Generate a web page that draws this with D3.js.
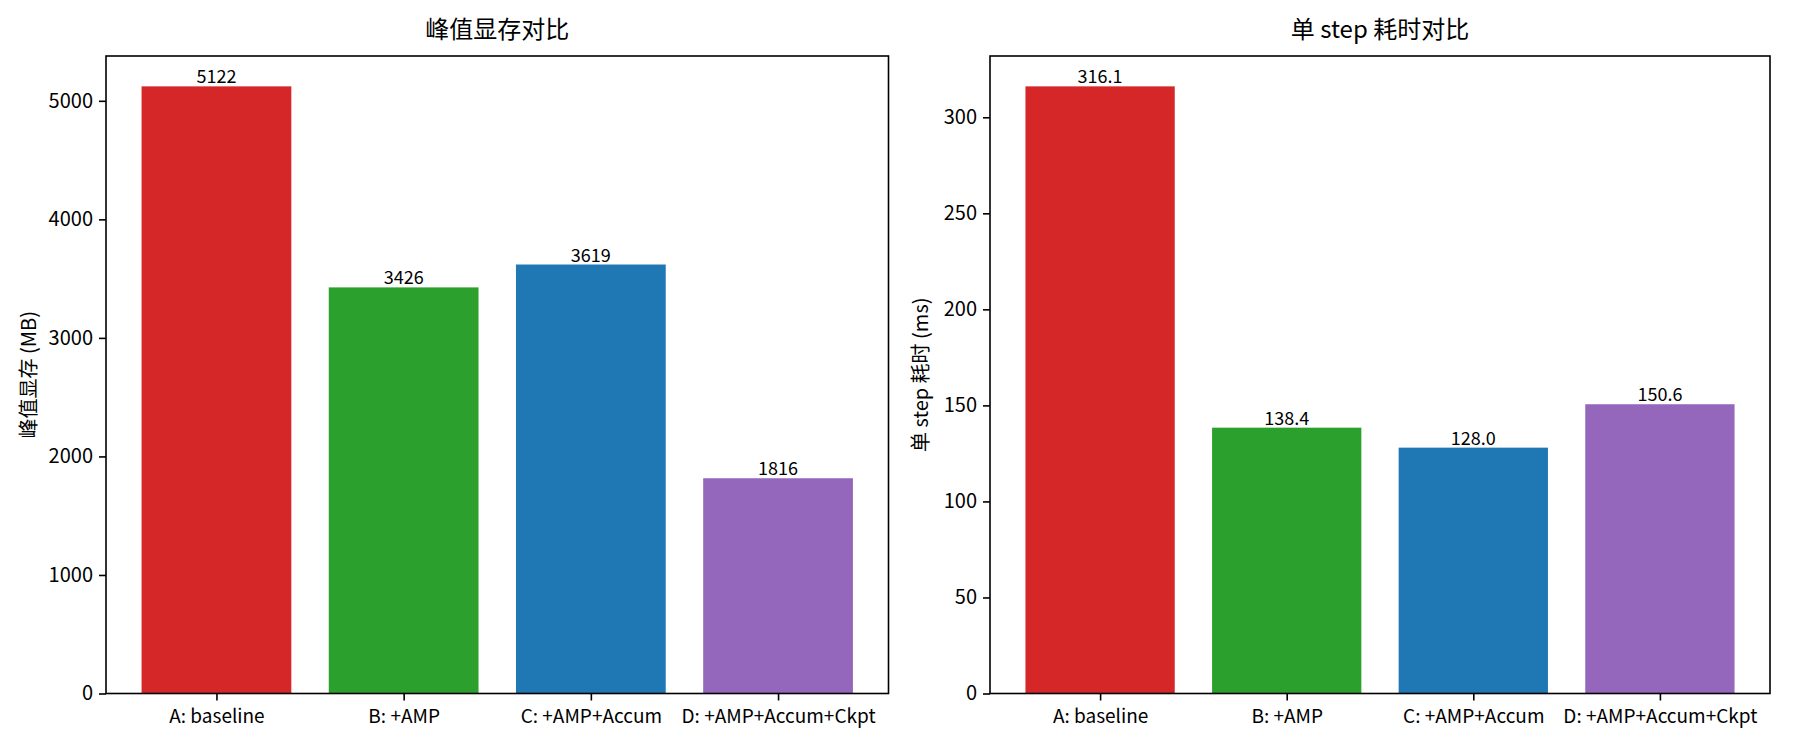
<!DOCTYPE html>
<html>
<head>
<meta charset="utf-8">
<script src="https://cdn.jsdelivr.net/npm/d3@7"></script>
<style>
  body { margin: 0; background: #fff; }
  svg text { font-family: "Noto Sans CJK SC", "DejaVu Sans", sans-serif; fill: #000; }
</style>
</head>
<body>
<div id="chart"></div>
<script>
const width = 1800;
const height = 750;

const categories = ['A: baseline', 'B: +AMP', 'C: +AMP+Accum', 'D: +AMP+Accum+Ckpt'];
const colors = ['#d62728', '#2ca02c', '#1f77b4', '#9467bd'];

const memoryValues = [5122, 3426, 3619, 1816];
const memoryTicks = [0, 1000, 2000, 3000, 4000, 5000];
const memoryLabels = ['5122', '3426', '3619', '1816'];

const timeValues = [316.1, 138.4, 128.0, 150.6];
const timeTicks = [0, 50, 100, 150, 200, 250, 300];
const timeLabels = ['316.1', '138.4', '128.0', '150.6'];

const svg = d3.select('#chart')
  .append('svg')
    .attr('width', width)
    .attr('height', height);

const plotTop = 56;
const plotBottom = 693.5;

drawPanel({
  left: 106, right: 888.5,
  values: memoryValues, ticks: memoryTicks, labels: memoryLabels,
  title: '峰值显存对比', yLabel: '峰值显存 (MB)', yLabelX: 31
});

drawPanel({
  left: 990, right: 1770,
  values: timeValues, ticks: timeTicks, labels: timeLabels,
  title: '单 step 耗时对比', yLabel: '单 step 耗时 (ms)', yLabelX: 923
});

function drawPanel(p) {
  const g = svg.append('g');

  // matplotlib-like limits: 5% margin on x, 5% headroom on y
  const x = d3.scaleLinear().domain([-0.59, categories.length - 1 + 0.59]).range([p.left, p.right]);
  const y = d3.scaleLinear().domain([0, d3.max(p.values) * 1.05]).range([plotBottom, plotTop]);
  const barW = x(0.8) - x(0);

  g.selectAll('rect.bar')
    .data(p.values)
    .join('rect')
      .attr('class', 'bar')
      .attr('x', (d, i) => x(i) - barW / 2)
      .attr('y', d => y(d))
      .attr('width', barW)
      .attr('height', d => y(0) - y(d))
      .attr('fill', (d, i) => colors[i]);

  g.selectAll('text.val')
    .data(p.values)
    .join('text')
      .attr('class', 'val')
      .attr('x', (d, i) => x(i))
      .attr('y', d => y(d) - 3)
      .attr('text-anchor', 'middle')
      .attr('font-size', 18)
      .text((d, i) => p.labels[i]);

  // axes
  const axisLeft = d3.axisLeft(y).tickValues(p.ticks).tickSize(7).tickPadding(6).tickFormat(d3.format('d'));
  const yAxis = g.append('g').attr('transform', `translate(${p.left},0)`).call(axisLeft);
  yAxis.select('.domain').remove();
  yAxis.selectAll('line').attr('stroke', '#000').attr('stroke-width', 1.6);
  yAxis.selectAll('text').attr('font-size', 20).attr('font-family', null);

  const axisBottom = d3.axisBottom(x).tickValues(d3.range(categories.length)).tickSize(7).tickPadding(9)
    .tickFormat(i => categories[i]);
  const xAxis = g.append('g').attr('transform', `translate(0,${plotBottom})`).call(axisBottom);
  xAxis.select('.domain').remove();
  xAxis.selectAll('line').attr('stroke', '#000').attr('stroke-width', 1.6);
  xAxis.selectAll('text').attr('font-size', 19).attr('font-family', null);

  // frame
  g.append('rect')
    .attr('x', p.left)
    .attr('y', plotTop)
    .attr('width', p.right - p.left)
    .attr('height', plotBottom - plotTop)
    .attr('fill', 'none')
    .attr('stroke', '#000')
    .attr('stroke-width', 1.6);

  g.append('text')
    .attr('x', (p.left + p.right) / 2)
    .attr('y', plotTop - 18)
    .attr('text-anchor', 'middle')
    .attr('font-size', 24)
    .text(p.title);

  g.append('text')
    .attr('transform', `translate(${p.yLabelX},${(plotTop + plotBottom) / 2}) rotate(-90)`)
    .attr('text-anchor', 'middle')
    .attr('dominant-baseline', 'middle')
    .attr('font-size', 20)
    .text(p.yLabel);
}
</script>
</body>
</html>
